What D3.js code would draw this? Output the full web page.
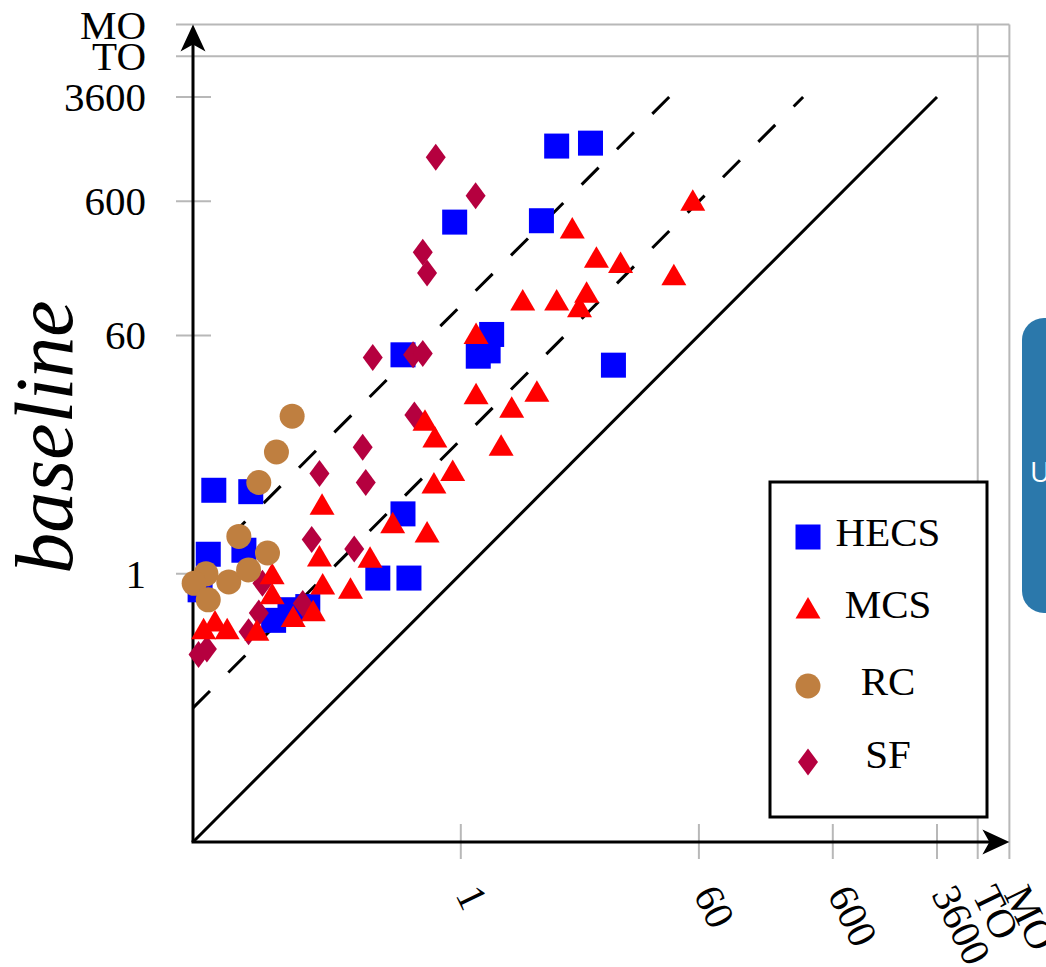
<!DOCTYPE html>
<html>
<head>
<meta charset="utf-8">
<script src="https://cdn.jsdelivr.net/npm/d3@7/dist/d3.min.js"></script>
<style>
  body { margin: 0; background: #fff; }
  text { font-family: "Liberation Serif", "Times New Roman", serif; fill: #000; }
</style>
</head>
<body>
<svg width="1046" height="967"></svg>
<script>
// DATA (seconds, [x = new tool, y = baseline])
var ticks = [1, 60, 600, 3600];
var tickLabels = ["1", "60", "600", "3600"];
var TO = 7250, MO = 12500;
var series = ["HECS", "MCS", "RC", "SF"];

var hecs = [[5.2, 1550], [9.3, 1630], [0.9, 420], [4.0, 430], [0.37, 43], [1.7, 61], [1.6, 46],
  [1.35, 42], [13.8, 36], [0.0143, 4.2], [0.027, 4.1], [0.37, 2.8], [0.013, 1.4], [0.024, 1.5],
  [0.0113, 0.76], [0.24, 0.93], [0.41, 0.93], [0.04, 0.45], [0.053, 0.54], [0.072, 0.57]];

var mcs = [[54, 610], [6.8, 380], [10.3, 230], [15.6, 210], [39, 170], [2.9, 110], [5.2, 110],
  [8.7, 126], [7.7, 98], [1.3, 62], [1.3, 22], [3.7, 23], [2.4, 17.5], [0.54, 14], [0.64, 10.5],
  [2.0, 9.1], [0.87, 5.9], [0.63, 4.75], [0.092, 3.3], [0.31, 2.4], [0.56, 2.05], [0.088, 1.36],
  [0.21, 1.33], [0.093, 0.84], [0.15, 0.78], [0.039, 1.0], [0.039, 0.71], [0.012, 0.39],
  [0.0146, 0.445], [0.018, 0.39], [0.03, 0.38], [0.056, 0.48], [0.079, 0.53]];

var rc = [[0.055, 15], [0.042, 8.1], [0.031, 4.8], [0.022, 1.9], [0.036, 1.43], [0.0125, 1.0],
  [0.0102, 0.85], [0.0185, 0.87], [0.026, 1.07], [0.013, 0.64]];

var sf = [[0.65, 1280], [1.29, 660], [0.52, 250], [0.56, 175], [0.22, 41], [0.44, 43], [0.52, 44],
  [0.45, 15.3], [0.185, 8.8], [0.088, 5.6], [0.195, 4.8], [0.077, 1.8], [0.16, 1.53],
  [0.033, 0.85], [0.031, 0.51], [0.026, 0.37], [0.066, 0.6], [0.011, 0.25], [0.0127, 0.275]];

var blue = "#0000ff", red = "#ff0000", brown = "#bf7f40", crimson = "#b5003f";
var grey = "#b8b8b8";

var svg = d3.select("svg");

var x = d3.scaleLog().domain([0.01, 3600]).range([193, 937]);
var y = d3.scaleLog().domain([0.01, 3600]).range([842, 97]);

// MARKER SHAPES
var shapes = {
  square: function(s) { return s.append("rect").attr("x", -12.5).attr("y", -12.5).attr("width", 25).attr("height", 25); },
  triangle: function(s) { return s.append("path").attr("d", "M0,-11L12.5,10.5L-12.5,10.5Z"); },
  circle: function(s) { return s.append("circle").attr("r", 12.5); },
  diamond: function(s) { return s.append("path").attr("d", "M0,-13.5L10,0L0,13.5L-10,0Z"); }
};

// GREY TICKS AND TIMEOUT LINES
var grid = svg.append("g").attr("stroke", grey).attr("stroke-width", 2);

grid.selectAll(".ty").data(ticks).enter().append("line")
    .attr("x1", 176).attr("x2", 211)
    .attr("y1", function(d) { return y(d); })
    .attr("y2", function(d) { return y(d); });

grid.selectAll(".tx").data(ticks).enter().append("line")
    .attr("y1", 824).attr("y2", 859)
    .attr("x1", function(d) { return x(d); })
    .attr("x2", function(d) { return x(d); });

grid.selectAll(".hy").data([TO, MO]).enter().append("line")
    .attr("x1", 176).attr("x2", x(MO))
    .attr("y1", function(d) { return y(d); })
    .attr("y2", function(d) { return y(d); });

grid.selectAll(".hx").data([TO, MO]).enter().append("line")
    .attr("y1", 859).attr("y2", y(MO))
    .attr("x1", function(d) { return x(d); })
    .attr("x2", function(d) { return x(d); });

// DIAGONALS  y = x, 10x, 100x
var diag = [
  {k: 1, dash: null},
  {k: 10, dash: "24,26"},
  {k: 100, dash: "24,26"}
];
svg.append("g").selectAll("line").data(diag).enter().append("line")
    .attr("x1", x(0.01)).attr("y1", function(d) { return y(0.01 * d.k); })
    .attr("x2", function(d) { return x(3600 / d.k); }).attr("y2", y(3600))
    .attr("stroke", "#000").attr("stroke-width", 3)
    .attr("stroke-dasharray", function(d) { return d.dash; });

// AXES WITH ARROWS
var axes = svg.append("g");
axes.append("line").attr("x1", x(0.01)).attr("y1", y(0.01)).attr("x2", x(0.01)).attr("y2", y(MO) + 10)
    .attr("stroke", "#000").attr("stroke-width", 3);
axes.append("line").attr("x1", x(0.01) - 1.5).attr("y1", y(0.01)).attr("x2", x(MO) - 10).attr("y2", y(0.01))
    .attr("stroke", "#000").attr("stroke-width", 3);
axes.append("path")
    .attr("d", "M0,0L12.5,27L0,20L-12.5,27Z")
    .attr("transform", "translate(" + x(0.01) + "," + y(MO) + ")");
axes.append("path")
    .attr("d", "M0,0L12.5,27L0,20L-12.5,27Z")
    .attr("transform", "translate(" + x(MO) + "," + y(0.01) + ") rotate(90)");

// Y TICK LABELS
var yLab = svg.append("g").attr("font-size", 41).attr("text-anchor", "end");
yLab.selectAll("text").data(ticks.concat([TO, MO])).enter().append("text")
    .attr("x", 146)
    .attr("y", function(d) { return y(d) + 14; })
    .text(function(d, i) { return i < 4 ? tickLabels[i] : (d === TO ? "TO" : "MO"); });

// X TICK LABELS (rotated)
var xLab = svg.append("g").attr("font-size", 41);
xLab.selectAll("text").data(ticks.concat([TO, MO])).enter().append("text")
    .attr("transform", function(d) { return "translate(" + (x(d) + 7) + ",888) rotate(64)"; })
    .attr("dy", "0.35em")
    .text(function(d, i) { return i < 4 ? tickLabels[i] : (d === TO ? "TO" : "MO"); });

// AXIS TITLE
svg.append("text")
    .attr("transform", "translate(72,437) rotate(-90)")
    .attr("text-anchor", "middle")
    .attr("font-size", 82)
    .attr("font-style", "italic")
    .text("baseline");

// POINTS
var layers = [
  {data: hecs, shape: "square", color: blue},
  {data: sf, shape: "diamond", color: crimson},
  {data: mcs, shape: "triangle", color: red},
  {data: rc, shape: "circle", color: brown}
];
layers.forEach(function(l) {
  var g = svg.append("g").attr("fill", l.color);
  g.selectAll("g").data(l.data).enter().append("g")
      .attr("transform", function(d) { return "translate(" + x(d[0]) + "," + y(d[1]) + ")"; })
      .each(function() { shapes[l.shape](d3.select(this)); });
});

// LEGEND
var legend = svg.append("g");
legend.append("rect")
    .attr("x", 770).attr("y", 482).attr("width", 217).attr("height", 335)
    .attr("fill", "#fff").attr("stroke", "#000").attr("stroke-width", 3);

var legendItems = [
  {name: series[0], shape: "square", color: blue, my: 537, ty: 546},
  {name: series[1], shape: "triangle", color: red, my: 608, ty: 618},
  {name: series[2], shape: "circle", color: brown, my: 686, ty: 695},
  {name: series[3], shape: "diamond", color: crimson, my: 762, ty: 768}
];
legendItems.forEach(function(it) {
  var m = legend.append("g").attr("fill", it.color)
      .attr("transform", "translate(808," + it.my + ")");
  shapes[it.shape](m);
  legend.append("text")
      .attr("x", 888).attr("y", it.ty)
      .attr("text-anchor", "middle")
      .attr("font-size", 41)
      .text(it.name);
});

// SIDE PANEL (cut off at right edge)
svg.append("rect")
    .attr("x", 1022).attr("y", 318).attr("width", 60).attr("height", 295)
    .attr("rx", 22).attr("fill", "#2b78ab");
svg.append("text")
    .attr("x", 1030).attr("y", 482)
    .attr("font-size", 28)
    .style("font-family", "'Open Sans', sans-serif")
    .style("fill", "#fff")
    .text("U");
</script>
</body>
</html>
